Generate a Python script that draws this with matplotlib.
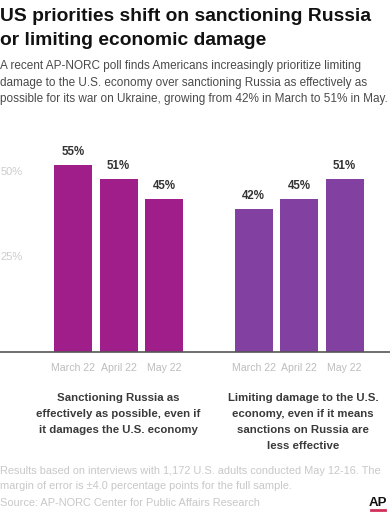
import matplotlib
matplotlib.use("Agg")
import matplotlib.pyplot as plt
from matplotlib.lines import Line2D

W, H = 390, 512

# data
categories = ["March 22", "April 22", "May 22"]
sanction_vals = [55, 51, 45]
limit_vals = [42, 45, 51]
yticks = [25, 50]
left_label = ["Sanctioning Russia as", "effectively as possible, even if",
              "it damages the U.S. economy"]
right_label = ["Limiting damage to the U.S.", "economy, even if it means",
               "sanctions on Russia are", "less effective"]
title = ["US priorities shift on sanctioning Russia", "or limiting economic damage"]
subtitle = ["A recent AP-NORC poll finds Americans increasingly prioritize limiting",
            "damage to the U.S. economy over sanctioning Russia as effectively as",
            "possible for its war on Ukraine, growing from 42% in March to 51% in May."]
footnote = ["Results based on interviews with 1,172 U.S. adults conducted May 12-16. The",
            "margin of error is \u00b14.0 percentage points for the full sample.",
            "Source: AP-NORC Center for Public Affairs Research"]

plt.rcParams['font.family'] = ['Liberation Sans', 'DejaVu Sans']

fig = plt.figure(figsize=(W / 100, H / 100), dpi=100)
renderer = fig.canvas.get_renderer()


def fy(py):
    return 1 - py / H


def fx(px):
    return px / W


def fit_size(line, fit_w, **kw):
    # font size at which a line gets the width seen in the reference
    probe = fig.text(0, 0, line, fontsize=10, **kw)
    w = probe.get_window_extent(renderer).width
    probe.remove()
    return 10 * fit_w / w


def block(lines, x, baselines, size, ha='left', **kw):
    for line, b in zip(lines, baselines):
        fig.text(fx(x), fy(b), line, fontsize=size, ha=ha, va='baseline', **kw)


# header
block(title, 0, [21, 45], fit_size(title[0], 372, fontweight='bold'),
      fontweight='bold', color='#111111')
block(subtitle, 0, [69, 86, 102], fit_size(subtitle[2], 388), color='#4a4a4a')

# chart
ax = fig.add_axes([0, fy(352), 1, (352 - 148) / H])
step = 45.5
left_x = [0, 1, 2]
right_x = [3.97, 4.97, 5.97]
bw = 38 / step
ax.bar(left_x, sanction_vals, width=bw, color='#a01e8a', edgecolor='none')
ax.bar(right_x, limit_vals, width=bw, color='#8240a0', edgecolor='none')
ax.set_xlim(-73 / step, (W - 73) / step)
ax.set_ylim(0, 60)
ax.axis('off')
ax.axhline(0, color='#555555', lw=1.2, clip_on=False)

for xs, vals in [(left_x, sanction_vals), (right_x, limit_vals)]:
    for x, v in zip(xs, vals):
        ax.annotate(f"{v}%", (x, v), xytext=(0, 7.2), textcoords='offset points',
                    ha='center', va='baseline', fontsize=8.3, fontweight='bold',
                    color='#333333')
    for x, c in zip(xs, categories):
        ax.annotate(c, (x, 0), xytext=(0, -13.5), textcoords='offset points',
                    ha='center', va='baseline', fontsize=7.6, color='#bdbdbd')

for t in yticks:
    ax.annotate(f"{t}%", (-73 / step, t), xytext=(0.5, 7.2), textcoords='offset points',
                ha='left', va='center', fontsize=8, color='#cccccc')

# group labels share one size
gsize = 0.5 * (fit_size(left_label[1], 160, fontweight='bold')
               + fit_size(right_label[0], 153, fontweight='bold'))
block(left_label, 118, [401, 417, 433], gsize, ha='center',
      fontweight='bold', color='#3a3a3a')
block(right_label, 303, [401, 417, 433, 449], gsize, ha='center',
      fontweight='bold', color='#3a3a3a')

# footer
block(footnote, 0, [474, 489, 506], fit_size(footnote[0], 382), color='#c8c8c8')
fig.text(fx(378), fy(506), "AP", ha='center', va='baseline', fontsize=9.5,
         fontweight='bold', color='#111111')
fig.add_artist(Line2D([fx(371), fx(385)], [fy(510), fy(510)], color='#d0305a', lw=2))

fig.savefig("out.png", dpi=100)
